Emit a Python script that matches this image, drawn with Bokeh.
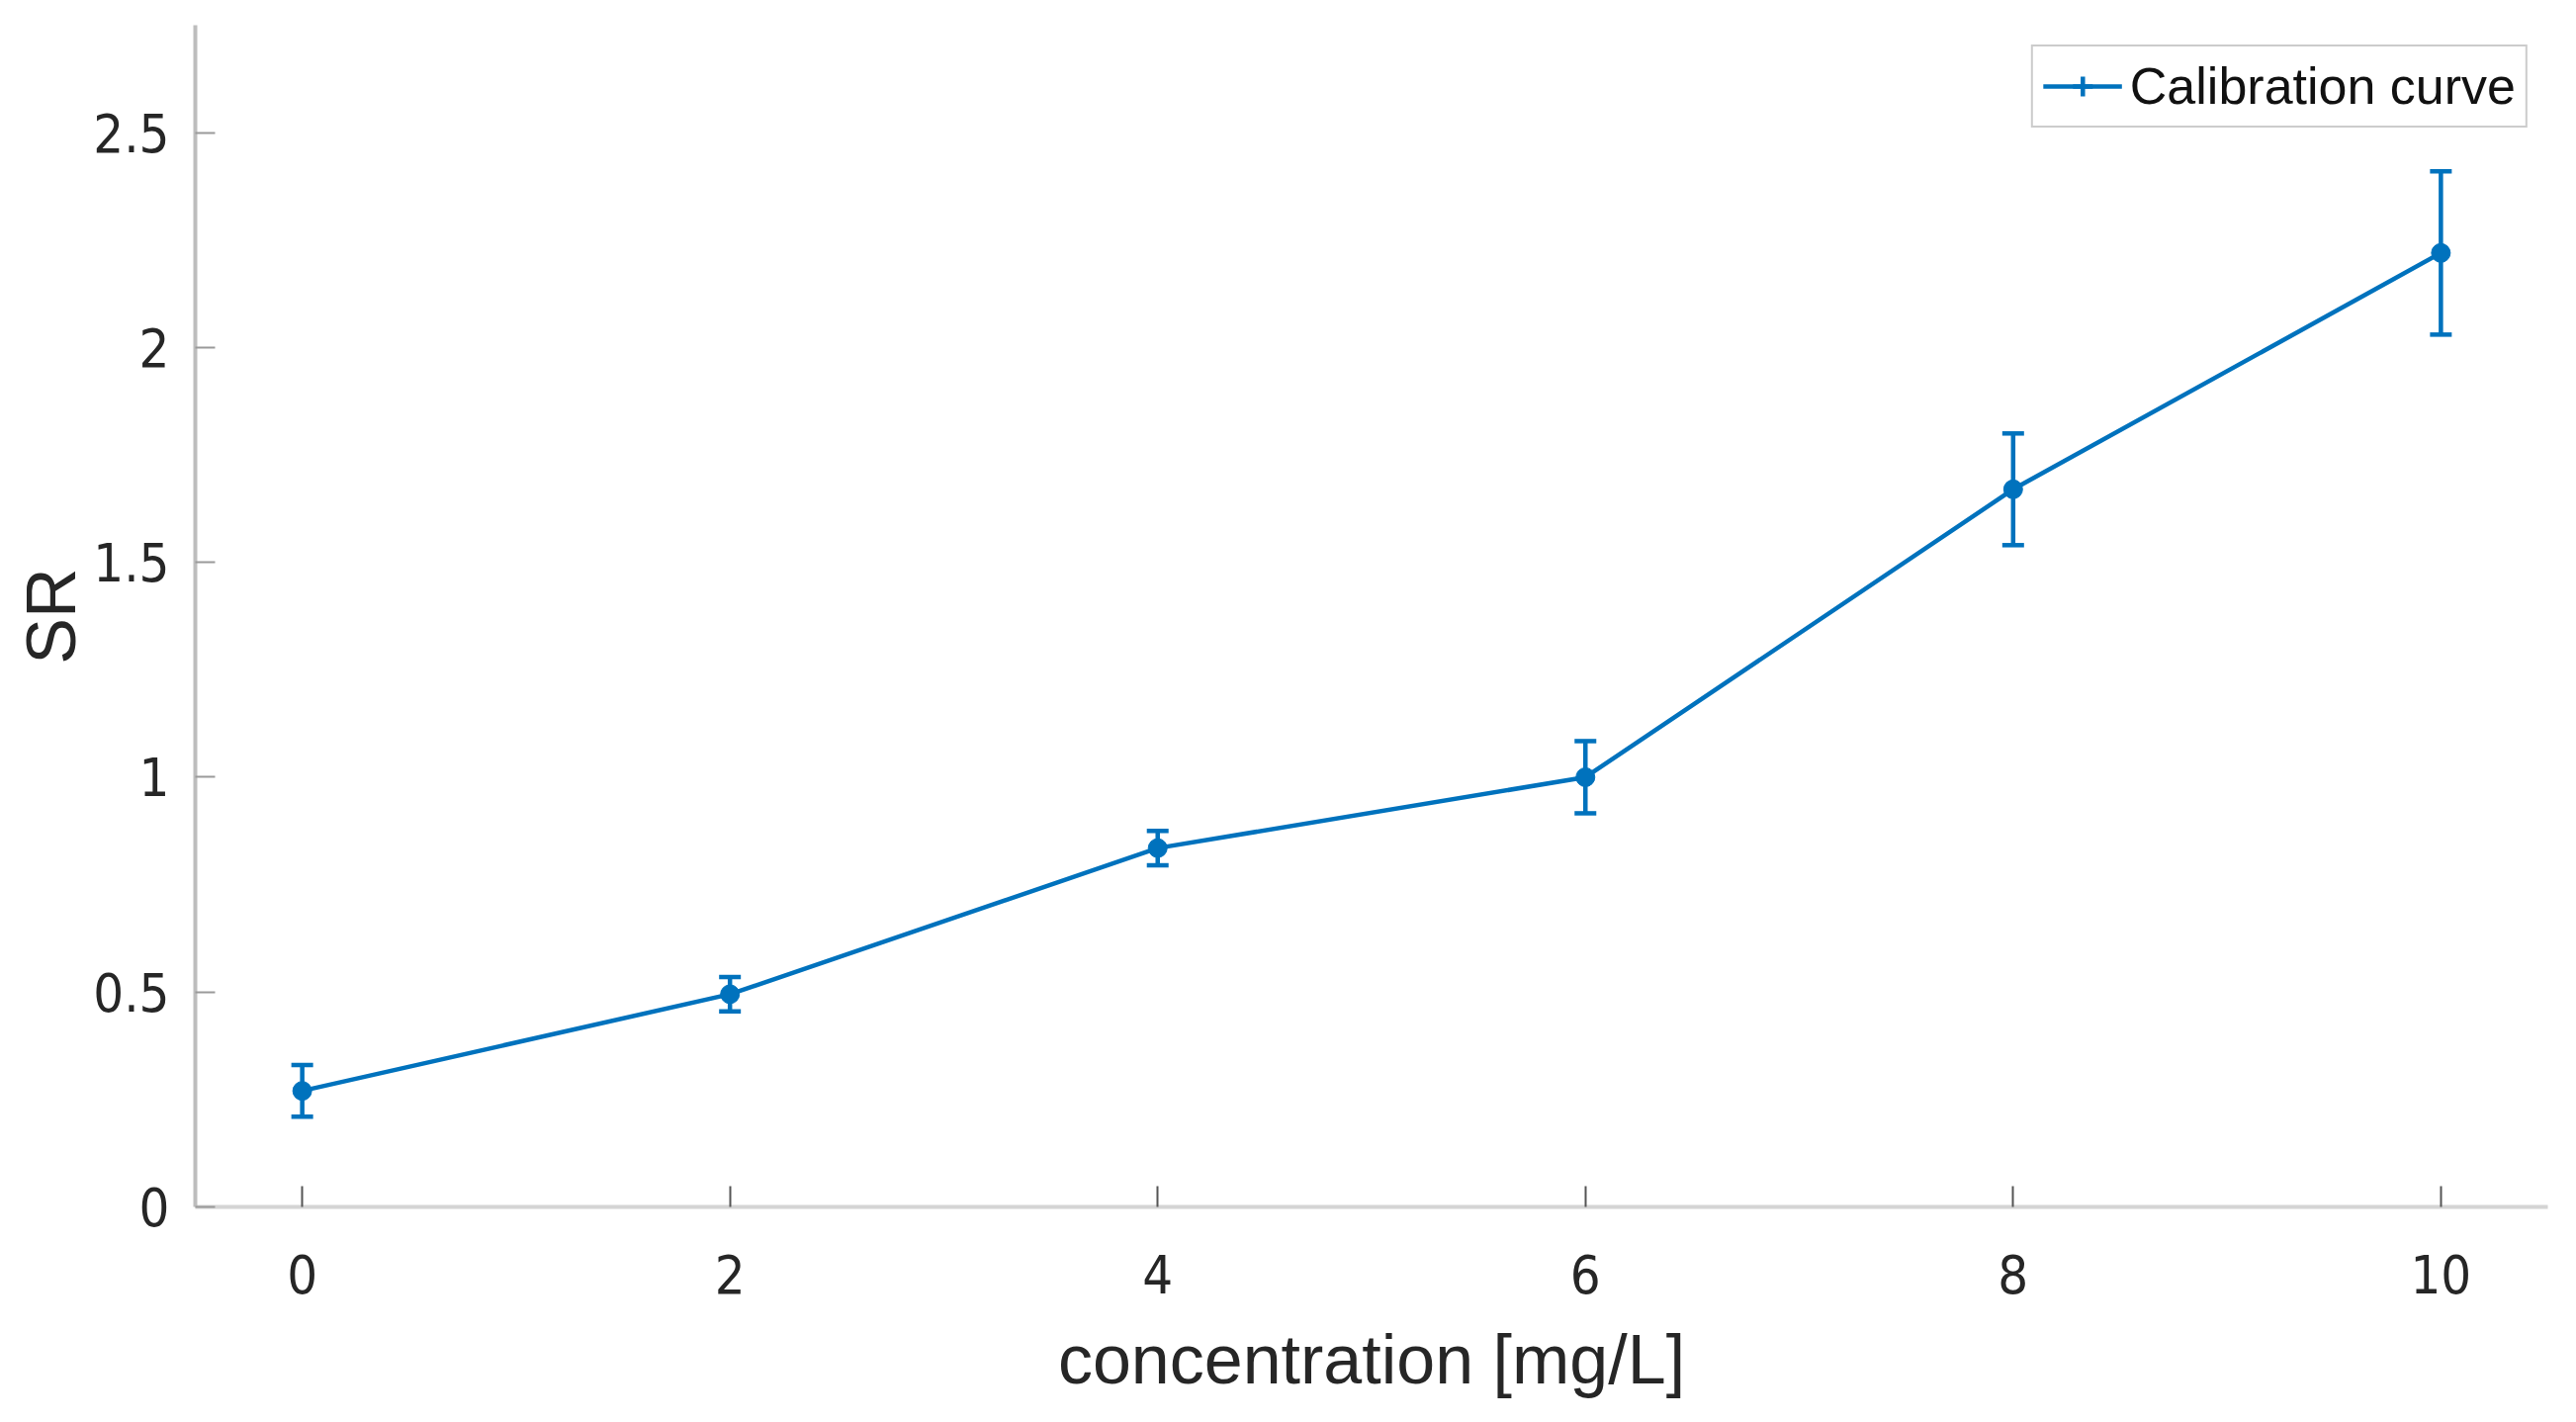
from bokeh.plotting import figure
from bokeh.models import (ColumnDataSource, Whisker, TeeHead, Legend, LegendItem,
                          Range1d, FixedTicker)
from bokeh.embed import file_html
from bokeh.resources import INLINE

# ---- data ----
concentration = [0, 2, 4, 6, 8, 10]
sr_mean = [0.27, 0.495, 0.835, 1.00, 1.67, 2.22]
sr_err = [0.06, 0.04, 0.04, 0.084, 0.13, 0.19]
x_ticks = [0, 2, 4, 6, 8, 10]
y_ticks = [0, 0.5, 1, 1.5, 2, 2.5]
y_tick_labels = {0: "0", 0.5: "0.5", 1: "1", 1.5: "1.5", 2: "2", 2.5: "2.5"}
series_label = "Calibration curve"
x_label = "concentration [mg/L]"
y_label = "SR"

BLUE = "#0072BD"
TEXT = "#262626"
TICK_FONT = "'Liberation Sans Narrow', 'DejaVu Sans Condensed', sans-serif"
LABEL_FONT = "'Liberation Sans', Arial, sans-serif"

source = ColumnDataSource(dict(
    x=concentration,
    y=sr_mean,
    upper=[m + e for m, e in zip(sr_mean, sr_err)],
    lower=[m - e for m, e in zip(sr_mean, sr_err)],
))

p = figure(width=2589, height=1422,
           x_range=Range1d(-0.5, 10.5), y_range=Range1d(0, 2.75),
           output_backend="svg", toolbar_location=None,
           min_border_left=197, min_border_right=13,
           min_border_top=25, min_border_bottom=202)
p.outline_line_color = None
p.grid.visible = False
p.background_fill_color = "white"
p.border_fill_color = "white"

# error bars
whisker = Whisker(base="x", upper="upper", lower="lower", source=source,
                  line_color=BLUE, line_width=4.5,
                  upper_head=TeeHead(size=22, line_color=BLUE, line_width=4.5),
                  lower_head=TeeHead(size=22, line_color=BLUE, line_width=4.5))
p.add_layout(whisker)

line_r = p.line("x", "y", source=source, line_color=BLUE, line_width=4.5)
dot_r = p.scatter("x", "y", source=source, marker="circle", size=19,
                  fill_color=BLUE, line_color=BLUE)
# cross marker only used for the legend icon (zero size on the plot)
cross_r = p.scatter("x", "y", source=source, marker="cross", size=0,
                    line_color=BLUE, line_width=4.5)

legend = Legend(items=[LegendItem(label=series_label, renderers=[line_r, cross_r])],
                location="top_right")
legend.margin = 20
legend.padding = 10
legend.glyph_width = 80
legend.glyph_height = 50
legend.label_height = 50
legend.label_standoff = 8
legend.label_text_font = LABEL_FONT
legend.label_text_font_size = "52px"
legend.label_text_color = "#111111"
legend.border_line_color = "#9a9a9a"
legend.border_line_width = 2
legend.background_fill_color = "white"
legend.background_fill_alpha = 1.0
p.add_layout(legend)

# x axis
xa = p.xaxis[0]
xa.ticker = FixedTicker(ticks=x_ticks)
xa.axis_label = x_label
xa.axis_label_text_font = LABEL_FONT
xa.axis_label_text_font_size = "70px"
xa.axis_label_text_font_style = "normal"
xa.axis_label_text_color = TEXT
xa.axis_label_standoff = 25
xa.major_label_text_font = TICK_FONT
xa.major_label_text_font_size = "54px"
xa.major_label_text_color = TEXT
xa.major_label_standoff = 48
xa.major_tick_in = 21
xa.major_tick_out = 0
xa.major_tick_line_color = "#555555"
xa.major_tick_line_width = 2
xa.minor_tick_line_color = None
xa.axis_line_color = "#d4d4d4"
xa.axis_line_width = 4

# y axis
ya = p.yaxis[0]
ya.ticker = FixedTicker(ticks=y_ticks)
ya.major_label_overrides = y_tick_labels
ya.axis_label = y_label
ya.axis_label_text_font = LABEL_FONT
ya.axis_label_text_font_size = "70px"
ya.axis_label_text_font_style = "normal"
ya.axis_label_text_color = TEXT
ya.axis_label_standoff = 0
ya.major_label_text_font = TICK_FONT
ya.major_label_text_font_size = "54px"
ya.major_label_text_color = TEXT
ya.major_label_standoff = 26
ya.major_tick_in = 20
ya.major_tick_out = 0
ya.major_tick_line_color = "#9a9a9a"
ya.major_tick_line_width = 2
ya.minor_tick_line_color = None
ya.axis_line_color = "#bdbdbd"
ya.axis_line_width = 4

open("out.html", "w").write(file_html(p, INLINE))
